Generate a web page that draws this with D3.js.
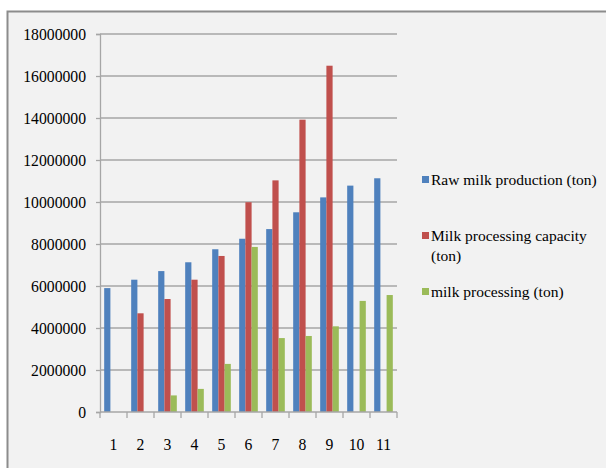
<!DOCTYPE html>
<html>
<head>
<meta charset="utf-8">
<script src="https://cdn.jsdelivr.net/npm/d3@7"></script>
<style>
  html, body { margin: 0; padding: 0; background: #fff; }
  svg text { font-family: "Liberation Serif", "DejaVu Serif", serif; }
</style>
</head>
<body>
<script>
const categories = ["1", "2", "3", "4", "5", "6", "7", "8", "9", "10", "11"];
const seriesNames = ["Raw milk production (ton)", "Milk processing capacity (ton)", "milk processing (ton)"];
const rawProduction = [5900000, 6300000, 6710000, 7130000, 7750000, 8250000, 8710000, 9510000, 10220000, 10780000, 11130000];
const processingCapacity = [0, 4700000, 5380000, 6300000, 7430000, 9990000, 11030000, 13920000, 16490000, 0, 0];
const processing = [0, 0, 790000, 1100000, 2290000, 7860000, 3520000, 3620000, 4080000, 5290000, 5570000];
const yTicks = [0, 2000000, 4000000, 6000000, 8000000, 10000000, 12000000, 14000000, 16000000, 18000000];
const colors = ["#4f81bd", "#c0504d", "#9bbb59"];

const width = 606, height = 468;
const margin = {top: 34, right: 209, bottom: 56, left: 100};
const series = [rawProduction, processingCapacity, processing];
const font = "Liberation Serif";

const svg = d3.select("body").append("svg")
    .attr("width", width)
    .attr("height", height);

// chart frame
svg.append("rect")
    .attr("x", 7.5).attr("y", 11.5)
    .attr("width", 610).attr("height", 470)
    .attr("fill", "#f2f2f2")
    .attr("stroke", "#8c8c8c")
    .attr("stroke-width", 2);

const x = d3.scaleBand()
    .domain(categories)
    .range([margin.left, width - margin.right])
    .paddingInner(0.31)
    .paddingOuter(0.155);

const xStep = d3.scaleBand()
    .domain(categories)
    .range([margin.left, width - margin.right]);

const xSub = d3.scaleBand()
    .domain(d3.range(series.length))
    .range([0, x.bandwidth()]);

const y = d3.scaleLinear()
    .domain([0, 18000000])
    .range([height - margin.bottom, margin.top]);

// gridlines + y axis
const yAxis = svg.append("g")
    .attr("transform", `translate(${margin.left},0)`)
    .call(d3.axisLeft(y).tickValues(yTicks).tickSize(4).tickPadding(10).tickFormat(d3.format("d")))
    .attr("font-family", font)
    .attr("font-size", 15.7);
yAxis.select(".domain").attr("stroke", "#a6a6a6").attr("stroke-width", 1.3);
yAxis.selectAll(".tick line").attr("stroke", "#a6a6a6").attr("stroke-width", 1.3);
yAxis.selectAll(".tick text").attr("fill", "#000");

svg.append("g")
    .selectAll("line")
    .data(yTicks.filter(d => d > 0))
    .join("line")
    .attr("x1", margin.left).attr("x2", width - margin.right)
    .attr("y1", d => y(d)).attr("y2", d => y(d))
    .attr("stroke", "#a6a6a6")
    .attr("stroke-width", 1.3);

// bars
svg.append("g")
    .selectAll("g")
    .data(series)
    .join("g")
    .attr("fill", (d, i) => colors[i])
    .each(function(values, si) {
      d3.select(this).selectAll("rect")
        .data(values.map((v, i) => ({cat: categories[i], v})).filter(d => d.v > 0))
        .join("rect")
        .attr("x", d => x(d.cat) + xSub(si))
        .attr("y", d => y(d.v))
        .attr("width", xSub.bandwidth())
        .attr("height", d => y(0) - y(d.v));
    });

// x axis
const xAxis = svg.append("g")
    .attr("transform", `translate(0,${y(0)})`)
    .call(d3.axisBottom(xStep).tickSize(0).tickPadding(27))
    .attr("font-family", font)
    .attr("font-size", 15.7);
xAxis.select(".domain").remove();
xAxis.selectAll(".tick text").attr("fill", "#000");

svg.append("line")
    .attr("x1", margin.left).attr("x2", width - margin.right)
    .attr("y1", y(0)).attr("y2", y(0))
    .attr("stroke", "#a6a6a6").attr("stroke-width", 1.3);

svg.append("g")
    .selectAll("line")
    .data(d3.range(categories.length + 1))
    .join("line")
    .attr("x1", i => margin.left + i * xStep.step())
    .attr("x2", i => margin.left + i * xStep.step())
    .attr("y1", y(0)).attr("y2", y(0) + 6)
    .attr("stroke", "#a6a6a6").attr("stroke-width", 1.3);

// legend
const legendItems = [
  {lines: ["Raw milk production (ton)"], y: 180},
  {lines: ["Milk processing capacity", "(ton)"], y: 236},
  {lines: ["milk processing (ton)"], y: 292}
];
const legend = svg.append("g").selectAll("g")
    .data(legendItems)
    .join("g")
    .attr("transform", d => `translate(422,${d.y})`);
legend.append("rect")
    .attr("x", 0).attr("y", -4)
    .attr("width", 7).attr("height", 7)
    .attr("fill", (d, i) => colors[i]);
legend.append("text")
    .attr("font-family", font)
    .attr("font-size", 15.5)
    .attr("fill", "#000")
    .selectAll("tspan")
    .data(d => d.lines)
    .join("tspan")
    .attr("x", 9)
    .attr("y", (d, i) => i * 20)
    .attr("dy", "0.35em")
    .text(d => d);
</script>
</body>
</html>
